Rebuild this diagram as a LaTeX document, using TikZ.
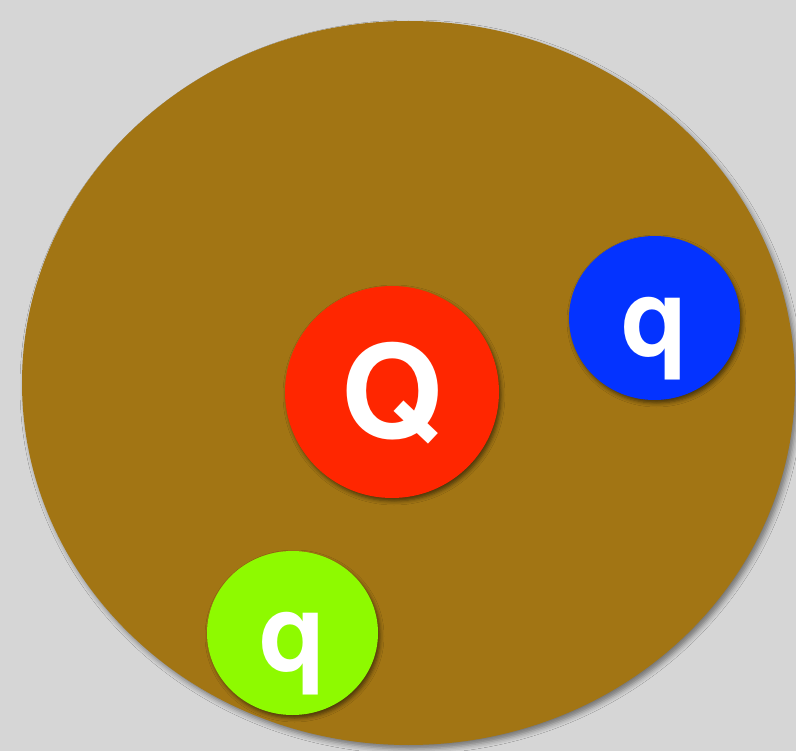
\documentclass[tikz,border=0pt]{standalone}
\usepackage{fontspec}
\setmainfont{TeX Gyre Heros}
\usepackage{tikz}
\usetikzlibrary{shapes.geometric,shadows.blur,positioning}
\definecolor{bggray}{HTML}{D6D6D6}
\definecolor{bagbrown}{HTML}{A27514}
\definecolor{qred}{HTML}{FF2600}
\definecolor{qblue}{HTML}{0433FF}
\definecolor{qgreen}{HTML}{8EFA00}
\tikzset{
  % Hadron bag: large filled ellipse with soft shadow
  bag/.style={ellipse, fill=bagbrown, inner sep=0pt,
              blur shadow={shadow xshift=3pt, shadow yshift=-4pt,
                           shadow blur radius=5pt, shadow opacity=45}},
  % Quark: filled disc, white bold letter centred on cap height
  quark/.style={ellipse, inner sep=0pt, text=white,
                text height=77.8pt, text depth=0pt,
                minimum width=171pt, minimum height=164pt,
                font=\fontsize{108}{108}\selectfont\bfseries,
                blur shadow={shadow xshift=2pt, shadow yshift=-3pt,
                             shadow blur radius=4pt, shadow opacity=55}},
  quark-big/.style={quark, minimum width=214pt, minimum height=212pt,
                    text height=93.6pt,
                    font=\fontsize{130}{130}\selectfont\bfseries}
}
\begin{document}
\begin{tikzpicture}[x=1pt, y=-1pt]

% ============== Background ==============
\fill[bggray] (0,0) rectangle (796,751);
\useasboundingbox (0,0) rectangle (796,751);

% ============== Bag ==============
\node[bag, minimum width=773pt, minimum height=724pt] (bag) at (408.5,383) {};

% ============== Quarks ==============
\node[quark-big, fill=qred] (Qred) at (392,392) {Q};
\node[quark, fill=qblue] (qblue) at (654.5,318) {q};
\node[quark, fill=qgreen] (qgreen) at (292.5,633) {q};

\end{tikzpicture}
\end{document}
